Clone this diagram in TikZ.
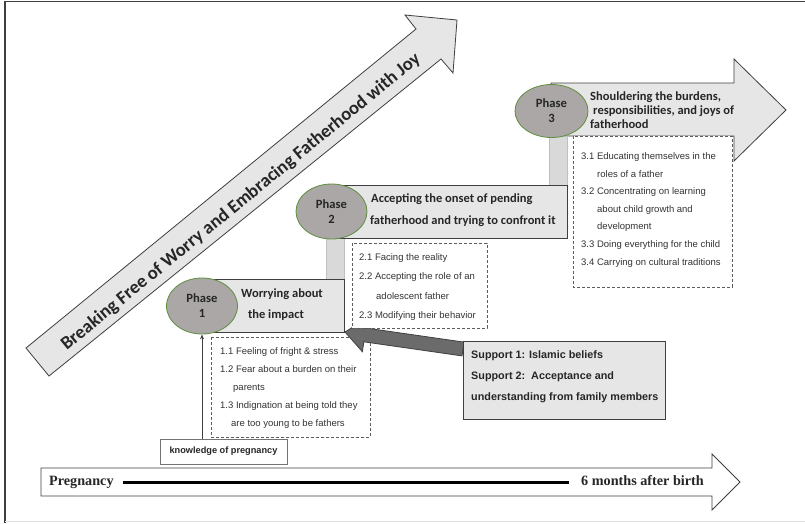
\documentclass[tikz,border=0pt]{standalone}
\usepackage{fontspec}
\setmainfont{Liberation Sans}
\newfontfamily\calfont{Carlito}
\newfontfamily\tmsfont{Liberation Serif}
\usetikzlibrary{arrows.meta,shapes.geometric}
\definecolor{lightfill}{HTML}{E7E6E6}
\definecolor{barfill}{HTML}{D9D9D9}
\definecolor{barline}{HTML}{BFBFBF}
\definecolor{phasefill}{HTML}{ABA7A7}
\definecolor{phaseline}{HTML}{5E8E3E}
\definecolor{darkline}{HTML}{3F3F3F}
\definecolor{suparrow}{HTML}{6B6B6B}
\definecolor{txt}{HTML}{262626}
\definecolor{itemtxt}{HTML}{333333}
\tikzset{
  boxline/.style={draw=darkline, line width=0.8pt},
  lightbox/.style={boxline, fill=lightfill},
  barbox/.style={draw=barline, fill=barfill, line width=0.6pt},
  dashbox/.style={draw=darkline!85, line width=0.8pt, dash pattern=on 3pt off 2pt, fill=white},
  phasenode/.style={ellipse, draw=phaseline, fill=phasefill, line width=0.8pt, inner sep=0pt,
     align=center, text=txt, font=\calfont\bfseries\fontsize{12.6}{15}\selectfont},
  ttl/.style={anchor=mid west, inner sep=0pt, text=txt, font=\calfont\bfseries\fontsize{12.5}{14}\selectfont},
  itemtext/.style={anchor=mid west, inner sep=0pt, text=itemtxt, font=\fontsize{9.5}{11}\selectfont},
  suptext/.style={anchor=mid west, inner sep=0pt, text=txt, font=\bfseries\fontsize{10.8}{12}\selectfont},
  tltext/.style={anchor=mid west, inner sep=0pt, text=txt, font=\tmsfont\bfseries\fontsize{14.2}{16}\selectfont}
}
\begin{document}
\begin{tikzpicture}[x=1pt,y=-1pt]
\useasboundingbox (0,0) rectangle (805,523);
\fill[white] (0,0) rectangle (805,523);
% frame
\draw[darkline, line width=1.2pt] (5,523) -- (5,1.5) -- (805,1.5);
\draw[black!12, line width=0.8pt] (5,521) -- (805,521);

% big diagonal arrow
\draw[lightbox] (49,376) -- (26,348) -- (416,29) -- (405,15) -- (457,20) -- (453,73) -- (441,59) -- cycle;
\node[rotate=39.3, inner sep=0pt, text=txt, font=\calfont\bfseries\fontsize{18.6}{20}\selectfont] (title) at (241,202)
  {Breaking Free of Worry and Embracing Fatherhood with Joy};

% phase 3 arrow and bars
\draw[lightbox] (551,83) -- (734,83) -- (734,59) -- (786,110) -- (734,161) -- (734,136) -- (551,136) -- cycle;
\draw[barbox] (549,136) rectangle (567,185);
\draw[barbox] (326,238) rectangle (344,279);

% phase boxes
\draw[lightbox] (331,185) rectangle (567,238);
\draw[lightbox] (202,279) rectangle (344,332);

% phase ellipses
\node[phasenode, minimum width=71pt, minimum height=56pt] (e1) at (202,306) {Phase\\1};
\node[phasenode, minimum width=71pt, minimum height=55pt] (e2) at (331.5,211.5) {Phase\\2};
\node[phasenode, minimum width=73pt, minimum height=53pt] (e3) at (551.5,111) {Phase\\3};

% phase titles
\node[ttl, anchor=mid] (t1a) at (282,295) {Worrying about};
\node[ttl, anchor=mid] (t1b) at (276,316) {the impact};
\node[ttl] (t2a) at (371,200) {Accepting the onset of pending};
\node[ttl] (t2b) at (370,222) {fatherhood and trying to confront it};
\node[ttl] (t3a) at (590,98) {Shouldering the burdens,};
\node[ttl] (t3b) at (593,111.5) {responsibilities, and joys of};
\node[ttl] (t3c) at (590,126) {fatherhood};

% dashed box 1
\draw[dashbox] (211,337) rectangle (370,437);

% support arrow (over box 1, under box 2 and the support box)
\draw[draw=darkline, fill=suparrow, line width=0.8pt, line join=miter]
  (464,342.1) -- (365.8,328) -- (367.2,318.1) -- (345,332) -- (362.4,351.7) -- (363.8,341.8) -- (462,355.9) -- cycle;

% dashed boxes 2 and 3
\draw[dashbox] (352,243) rectangle (487,328);
\draw[dashbox] (573,136) rectangle (732,287);

% box 1 items
\node[itemtext] (i11) at (220,352) {1.1 Feeling of fright \& stress};
\node[itemtext] (i12) at (220,370) {1.2 Fear about a burden on their};
\node[itemtext] (i12b) at (233,388) {parents};
\node[itemtext] (i13) at (220,406) {1.3 Indignation at being told they};
\node[itemtext] (i13b) at (231,423.5) {are too young to be fathers};

% box 2 items
\node[itemtext] (i21) at (359,258) {2.1 Facing the reality};
\node[itemtext] (i22) at (359,277) {2.2 Accepting the role of an};
\node[itemtext] (i22b) at (376,297) {adolescent father};
\node[itemtext] (i23) at (359,316) {2.3 Modifying their behavior};

% box 3 items
\node[itemtext] (i31) at (581,157) {3.1 Educating themselves in the};
\node[itemtext] (i31b) at (597,174.5) {roles of a father};
\node[itemtext] (i32) at (581,192) {3.2 Concentrating on learning};
\node[itemtext] (i32b) at (597,209.5) {about child growth and};
\node[itemtext] (i32c) at (597,227) {development};
\node[itemtext] (i33) at (581,245) {3.3 Doing everything for the child};
\node[itemtext] (i34) at (581,263) {3.4 Carrying on cultural traditions};

% support box
\draw[lightbox] (463,341) rectangle (665,419);
\node[suptext] (s1) at (471,356) {Support 1: Islamic beliefs};
\node[suptext] (s2) at (471,377) {Support 2:\ \ Acceptance and};
\node[suptext] (s3) at (471,398) {understanding from family members};

% knowledge of pregnancy
\node[draw=black!55, fill=white, line width=0.7pt, minimum width=127pt, minimum height=25pt, inner sep=0pt,
      text=txt, font=\bfseries\fontsize{9.2}{11}\selectfont] (know) at (223.5,451.5) {knowledge of pregnancy};
\draw[darkline, line width=0.8pt, -{Stealth[length=5pt,width=4pt]}] (know.north -| e1.south) -- (e1.south);

% timeline arrow
\draw[draw=darkline, fill=white, line width=0.8pt] (41,468) -- (712,468) -- (712,454) -- (740,482) -- (712,510) -- (712,496) -- (41,496) -- cycle;
\node[tltext] (preg) at (49,482.5) {Pregnancy};
\node[tltext] (six) at (581,482.5) {6 months after birth};
\draw[black, line width=2.2pt] ([xshift=9pt]preg.mid east) -- ([xshift=-12pt]six.mid west);
\end{tikzpicture}
\end{document}
